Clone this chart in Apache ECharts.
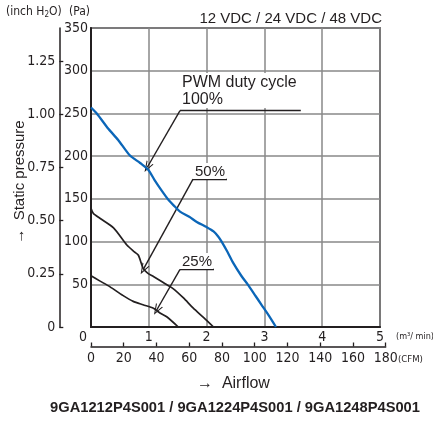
<!DOCTYPE html>
<html>
<head>
<meta charset="utf-8">
<script src="https://cdn.jsdelivr.net/npm/echarts@6/dist/echarts.min.js"></script>
<style>html,body{margin:0;padding:0;background:#fff;}#c{width:433px;height:421px;}</style>
</head>
<body>
<div id="c"></div>
<script>
// ---- data (airflow m3/min, static pressure Pa) ----
var airflowTicks = [0, 1, 2, 3, 4, 5];
var cfmTicks = [0, 20, 40, 60, 80, 100, 120, 140, 160, 180];
var paTicks = [0, 50, 100, 150, 200, 250, 300, 350];
var inchTicks = [0, 0.25, 0.5, 0.75, 1.0, 1.25];

var duty100 = [[0,257],[0.1,250],[0.3,232],[0.47,219],[0.67,201],[0.85,192],[0.99,184],[1.1,172],[1.22,160],[1.35,148],[1.45,141],[1.54,135],[1.7,129],[1.83,123],[2.0,117],[2.12,112],[2.2,106],[2.26,100],[2.36,88],[2.46,75],[2.6,60],[2.72,49],[2.85,36],[2.95,26],[3.08,13],[3.2,0]];
var duty50 = [[0,139],[0.04,133],[0.16,127],[0.39,116],[0.62,96],[0.75,88],[0.82,84],[0.9,69],[0.98,63],[1.08,59],[1.25,52],[1.42,45],[1.6,34],[1.77,22],[1.95,11],[2.12,0]];
var duty25 = [[0,60],[0.15,54],[0.33,47],[0.55,37],[0.73,30],[0.9,26],[1.08,22],[1.2,16],[1.31,12],[1.51,0]];

// annotation leaders: [x1,y1,x2,y2,arrow]
var leaders = [
  [1.54,253.2,3.63,253.2,false],[1.54,253.2,0.974,187,true],
  [1.765,173.2,2.353,173.2,false],[1.765,173.2,0.905,67.5,true],
  [1.54,67.5,2.128,67.5,false],[1.54,67.5,1.137,19.9,true]
];

var PA_PER_INCH = 249.089;
var INK = '#231f20';
var NARROW = "'Liberation Sans Narrow','DejaVu Sans Condensed',sans-serif";
var SANS = "'Liberation Sans',Arial,sans-serif";
var ARROW = 'path://M5,0 L10,12 L8.6,12 L5,3.2 L1.4,12 L0,12 Z';

var chart = echarts.init(document.getElementById('c'), null, {renderer: 'canvas'});

var mlData = leaders.map(function (l) {
  return [
    {coord: [l[0], l[1]], symbol: 'none'},
    {coord: [l[2], l[3]], symbol: l[4] ? ARROW : 'none', symbolSize: [8, 11]}
  ];
});

chart.setOption({
  animation: false,
  backgroundColor: '#fff',
  grid: [
    {left: 91, right: 53, top: 28, bottom: 94, show: true, borderColor: INK, borderWidth: 1.6, backgroundColor: 'transparent'},
    {left: 91, right: 47.3, top: 28, bottom: 94, show: false}
  ],
  xAxis: [
    {
      gridIndex: 0, type: 'value', min: airflowTicks[0], max: airflowTicks[airflowTicks.length - 1], interval: 1,
      axisLine: {show: true, lineStyle: {color: INK, width: 2}},
      axisTick: {show: false},
      splitLine: {show: true, lineStyle: {color: '#888888', width: 1.5}},
      axisLabel: {
        margin: 3, color: INK, fontFamily: NARROW, fontSize: 14,
        formatter: function (v) { return v === 0 ? '{z|0}' : String(v); },
        rich: {z: {padding: [0, 16, 0, 0], fontFamily: NARROW, fontSize: 14, color: INK}}
      }
    },
    {
      gridIndex: 1, type: 'value', min: cfmTicks[0], max: cfmTicks[cfmTicks.length - 1], interval: 20,
      position: 'bottom', offset: 19.5,
      axisLine: {show: true, onZero: false, lineStyle: {color: INK, width: 1.5}},
      axisTick: {show: true, inside: true, length: 4, lineStyle: {color: INK, width: 1.3}},
      splitLine: {show: false},
      axisLabel: {margin: 5, color: INK, fontFamily: NARROW, fontSize: 14}
    }
  ],
  yAxis: [
    {
      gridIndex: 0, type: 'value', min: paTicks[0], max: paTicks[paTicks.length - 1], interval: 50,
      axisLine: {show: true, lineStyle: {color: INK, width: 2}},
      axisTick: {show: false},
      splitLine: {show: true, lineStyle: {color: '#888888', width: 1.5}},
      axisLabel: {margin: 3, color: INK, fontFamily: NARROW, fontSize: 14, showMinLabel: false}
    },
    {
      gridIndex: 0, type: 'value', position: 'left', offset: 31.7,
      min: inchTicks[0], max: paTicks[paTicks.length - 1] / PA_PER_INCH, interval: 0.25,
      axisLine: {show: true, onZero: false, lineStyle: {color: INK, width: 1.5}},
      axisTick: {show: true, inside: true, length: 4, lineStyle: {color: INK, width: 1.3}},
      splitLine: {show: false},
      axisLabel: {
        margin: 4, color: INK, fontFamily: NARROW, fontSize: 14, showMaxLabel: false,
        formatter: function (v) { return v === 0 ? '0' : v.toFixed(2); }
      }
    },
    {gridIndex: 1, type: 'value', min: 0, max: 350, show: false}
  ],
  series: [
    {type: 'line', xAxisIndex: 0, yAxisIndex: 0, data: duty100, smooth: 0.25, symbol: 'none',
     lineStyle: {color: '#0b66b8', width: 2.3}, z: 5},
    {type: 'line', xAxisIndex: 0, yAxisIndex: 0, data: duty50, smooth: 0.25, symbol: 'none',
     lineStyle: {color: INK, width: 1.7}, z: 4},
    {type: 'line', xAxisIndex: 0, yAxisIndex: 0, data: duty25, smooth: 0.25, symbol: 'none',
     lineStyle: {color: INK, width: 1.7}, z: 4},
    {type: 'line', xAxisIndex: 0, yAxisIndex: 0, data: [], symbol: 'none', z: 6,
     markLine: {silent: true, animation: false, label: {show: false},
       lineStyle: {color: INK, width: 1.4, type: 'solid'}, emphasis: {disabled: true},
       data: mlData}}
  ],
  graphic: [
    {type: 'text', left: 6, top: 6, style: {text: '(inch H{s|2}O)', fill: INK, font: '12px ' + NARROW,
      rich: {s: {fontSize: 8, fontFamily: NARROW, fill: INK, padding: [6, 0, 0, 0]}}}},
    {type: 'text', left: 69, top: 6, style: {text: '(Pa)', fill: INK, font: '12px ' + NARROW}},
    {type: 'text', right: 51, top: 11, style: {text: '12 VDC / 24 VDC / 48 VDC', fill: INK, font: '15px ' + SANS}},
    {type: 'text', x: 180, y: 73, z: 10, style: {text: 'PWM duty cycle\n100%', fill: INK, font: '16px ' + SANS,
      lineHeight: 17, textVerticalAlign: 'top', backgroundColor: '#fff', padding: [1, 1, 0, 2], width: 120}},
    {type: 'text', x: 193, y: 163, z: 10, style: {text: '50%', fill: INK, font: '15px ' + SANS,
      textVerticalAlign: 'top', backgroundColor: '#fff', padding: [1, 1, 0, 2]}},
    {type: 'text', x: 180, y: 253, z: 10, style: {text: '25%', fill: INK, font: '15px ' + SANS,
      textVerticalAlign: 'top', backgroundColor: '#fff', padding: [1, 1, 0, 2]}},
    {type: 'text', x: 20, y: 182, rotation: Math.PI / 2,
      style: {text: '\u2192  Static pressure', fill: INK, font: '15px ' + SANS, textAlign: 'center', textVerticalAlign: 'middle'}},
    {type: 'text', x: 197, y: 384, style: {text: '\u2192  Airflow', fill: INK, font: '16px ' + SANS, textVerticalAlign: 'middle'}},
    {type: 'text', x: 396, y: 337, style: {text: '(m\u00b3/ min)', fill: INK, font: '9px ' + NARROW, textVerticalAlign: 'middle'}},
    {type: 'text', x: 398, y: 360, style: {text: '(CFM)', fill: INK, font: '9.5px ' + NARROW, textVerticalAlign: 'middle'}},
    {type: 'text', x: 235, y: 408, style: {text: '9GA1212P4S001 / 9GA1224P4S001 / 9GA1248P4S001', fill: INK,
      font: 'bold 14.7px ' + SANS, textAlign: 'center', textVerticalAlign: 'middle'}}
  ]
});
</script>
</body>
</html>
